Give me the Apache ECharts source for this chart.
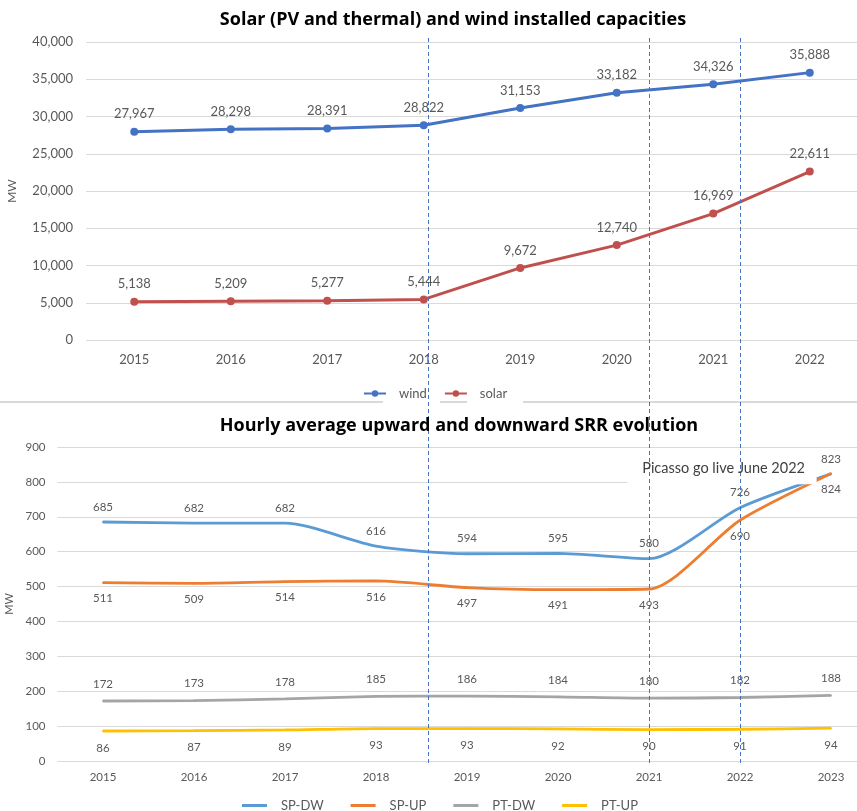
<!DOCTYPE html>
<html>
<head>
<meta charset="utf-8">
<script src="https://cdn.jsdelivr.net/npm/echarts@6/dist/echarts.min.js"></script>
<style>
  html, body { margin: 0; padding: 0; background: #fff; }
  #chart { width: 857px; height: 811px; }
</style>
</head>
<body>
<div id="chart"></div>
<script>
// Installed capacities (MW)
const capYears = ['2015', '2016', '2017', '2018', '2019', '2020', '2021', '2022'];
const wind  = [27967, 28298, 28391, 28822, 31153, 33182, 34326, 35888];
const solar = [5138, 5209, 5277, 5444, 9672, 12740, 16969, 22611];

// Hourly average SRR (MW)
const srrYears = ['2015', '2016', '2017', '2018', '2019', '2020', '2021', '2022', '2023'];
const spDw = [685, 682, 682, 616, 594, 595, 580, 726, 823];
const spUp = [511, 509, 514, 516, 497, 491, 493, 690, 824];
const ptDw = [172, 173, 178, 185, 186, 184, 180, 182, 188];
const ptUp = [86, 87, 89, 93, 93, 92, 90, 91, 94];

// Vertical markers, in SRR category positions
const markerPos = [3.57, 6, 7];
const noteText = 'Picasso go live June 2022';
const notePos = [6.82, 839];

const FONT = 'Lato, "Open Sans", sans-serif';
const TITLE_FONT = '"Open Sans", Lato, sans-serif';
const GREY = '#595959';
const fmt = v => Number(v).toLocaleString('en-US');

const chart = echarts.init(document.getElementById('chart'), null, { renderer: 'canvas' });

function capSeries(name, data, color) {
  return {
    name, type: 'line', data, xAxisIndex: 0, yAxisIndex: 0,
    symbol: 'circle', symbolSize: 8,
    lineStyle: { width: 3, color }, itemStyle: { color },
    label: { show: true, position: 'top', distance: 7, color: GREY, fontSize: 13, fontFamily: FONT,
             formatter: p => fmt(p.value) },
    z: 3
  };
}
function srrSeries(name, data, color, pos, dist) {
  return {
    name, type: 'line', data, xAxisIndex: 1, yAxisIndex: 1,
    smooth: 0.25, symbol: 'circle', symbolSize: 2,
    lineStyle: { width: 2.8, color }, itemStyle: { color },
    label: { show: true, position: pos, distance: dist, color: GREY, fontSize: 11.5, fontFamily: FONT },
    z: 3
  };
}

const legendText = { color: GREY, fontSize: 13, fontFamily: FONT };

const option = {
  animation: false,
  backgroundColor: '#fff',
  grid: [
    { left: 86, top: 42, width: 772, height: 298, outerBoundsMode: 'none', containLabel: false },
    { left: 57.5, top: 447, width: 819, height: 314, outerBoundsMode: 'none', containLabel: false }
  ],
  xAxis: [
    { type: 'category', gridIndex: 0, data: capYears, boundaryGap: true,
      axisLine: { show: false }, axisTick: { show: false },
      axisLabel: { color: GREY, fontSize: 13, fontFamily: FONT, margin: 13 } },
    { type: 'category', gridIndex: 1, data: srrYears, boundaryGap: true,
      axisLine: { show: false }, axisTick: { show: false },
      axisLabel: { color: GREY, fontSize: 11.5, fontFamily: FONT, margin: 10 } }
  ],
  yAxis: [
    { type: 'value', gridIndex: 0, min: 0, max: 40000, interval: 5000,
      name: 'MW', nameLocation: 'middle', nameGap: 68, nameRotate: 90,
      nameTextStyle: { color: GREY, fontSize: 12, fontFamily: FONT },
      axisLine: { show: false }, axisTick: { show: false },
      splitLine: { lineStyle: { color: '#d9d9d9', width: 1.2 } },
      axisLabel: { color: GREY, fontSize: 13, fontFamily: FONT, margin: 13, formatter: fmt } },
    { type: 'value', gridIndex: 1, min: 0, max: 900, interval: 100,
      name: 'MW', nameLocation: 'middle', nameGap: 42, nameRotate: 90,
      nameTextStyle: { color: GREY, fontSize: 11, fontFamily: FONT },
      axisLine: { show: false }, axisTick: { show: false },
      splitLine: { lineStyle: { color: '#d9d9d9', width: 1.2 } },
      axisLabel: { color: GREY, fontSize: 11.5, fontFamily: FONT, margin: 12 } }
  ],
  legend: [
    { data: ['wind', 'solar'], left: 358, top: 382, itemWidth: 22, itemHeight: 8, itemGap: 17,
      textStyle: Object.assign({ padding: [0, 0, 0, 8] }, legendText) },
    { data: ['SP-DW', 'SP-UP', 'PT-DW', 'PT-UP'].map(n => ({ name: n, icon: 'rect' })),
      left: 237, top: 794, itemWidth: 25, itemHeight: 3, itemGap: 27,
      textStyle: Object.assign({ padding: [0, 0, 0, 9] }, legendText) }
  ],
  series: [
    capSeries('wind', wind, '#4472C4'),
    capSeries('solar', solar, '#C0504D'),
    srrSeries('SP-DW', spDw, '#5B9BD5', 'top', 8),
    srrSeries('SP-UP', spUp, '#ED7D31', 'bottom', 9),
    srrSeries('PT-DW', ptDw, '#A5A5A5', 'top', 10),
    srrSeries('PT-UP', ptUp, '#FFC000', 'bottom', 10)
  ]
};
chart.setOption(option);

// Overlay: titles, section separator, vertical markers and the note box
const p0 = chart.convertToPixel({ gridIndex: 1 }, [0, 0]);
const p1 = chart.convertToPixel({ gridIndex: 1 }, [1, notePos[1]]);
const step = p1[0] - p0[0];
const xAt = i => p0[0] + step * i;
const topY = chart.convertToPixel({ gridIndex: 0 }, [0, 40000])[1] - 4;
const botY = p0[1] + 3;
const y800 = chart.convertToPixel({ gridIndex: 1 }, [0, 800])[1];

const graphics = [
  { type: 'text', x: 453, y: 11, style: { text: 'Solar (PV and thermal) and wind installed capacities',
      fontSize: 18, fontWeight: 'bold', fontFamily: TITLE_FONT, fill: '#000', textAlign: 'center' }, z: 10 },
  { type: 'text', x: 459, y: 417, style: { text: 'Hourly average upward and downward SRR evolution',
      fontSize: 18, fontWeight: 'bold', fontFamily: TITLE_FONT, fill: '#000', textAlign: 'center' }, z: 10 }
];
[[0, 383], [440, 467], [523, 857]].forEach(([a, b]) => {
  graphics.push({ type: 'line', shape: { x1: a, y1: 402, x2: b, y2: 402 },
    style: { stroke: '#d9d9d9', lineWidth: 2 }, z: 1 });
});
markerPos.forEach(i => {
  const x = Math.round(xAt(i)) + 0.5;
  graphics.push({ type: 'line', shape: { x1: x, y1: topY, x2: x, y2: botY },
    style: { stroke: '#4472C4', lineWidth: 1, lineDash: [4, 3] }, z: 5 });
});
const nx = xAt(notePos[0]);
const ny = p1[1];
// note box hides the 800 gridline to the right of it
graphics.push({ type: 'rect', shape: { x: nx - 96, y: y800 - 3, width: 240, height: 6 },
  style: { fill: '#fff' }, z: 1 });
graphics.push({ type: 'rect', shape: { x: nx - 96, y: ny - 9, width: 189, height: 25 },
  style: { fill: '#fff' }, z: 4 });
graphics.push({ type: 'text', x: nx, y: ny, style: { text: noteText, fontSize: 14.5, fontFamily: FONT,
  fill: '#404040', textAlign: 'center', textVerticalAlign: 'middle' }, z: 7 });

chart.setOption({ graphic: graphics });
</script>
</body>
</html>
